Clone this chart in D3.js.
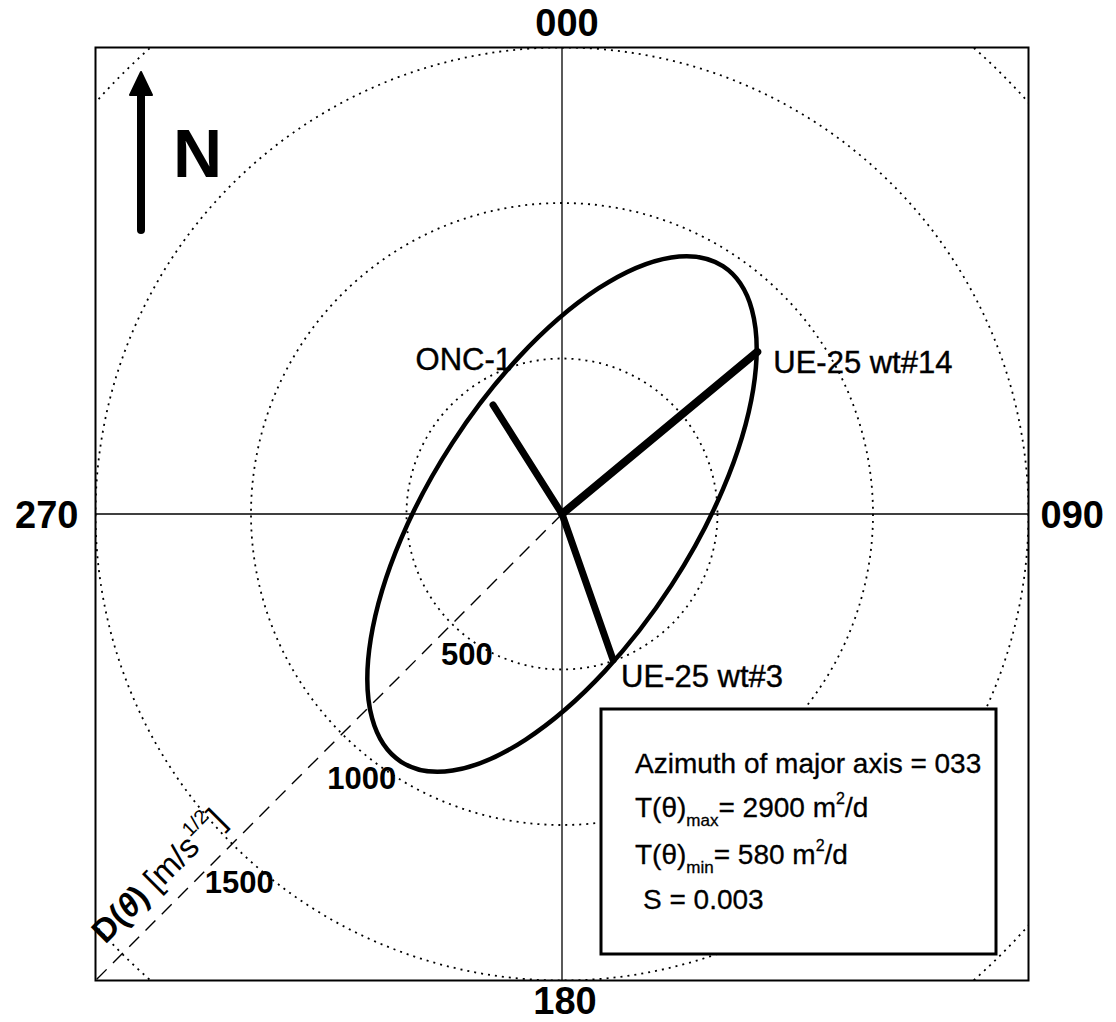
<!DOCTYPE html>
<html>
<head>
<meta charset="utf-8">
<script src="https://cdn.jsdelivr.net/npm/d3@7"></script>
<style>
  html, body { margin: 0; padding: 0; background: #fff; }
  svg { display: block; }
  text { font-family: "Liberation Sans", Arial, Helvetica, sans-serif; fill: #000; }
</style>
</head>
<body>
<svg id="chart" width="1116" height="1022"></svg>
<script>
// Compass labels at the four cardinal directions (azimuth in degrees)
const compassAz = [0, 90, 180, 270];
const compassLabels = ["000", "090", "180", "270"];

// Dotted reference rings for D(theta), in m/s^1/2
const ringValues = [500, 1000, 1500, 2000];
const ringLabels = ["500", "1000", "1500"];

// Directional diffusivity ellipse
const majorAzimuth = 33;      // degrees from north
const dMajor = 950;           // semi-major axis, m/s^1/2
const dMinor = 420;           // semi-minor axis, m/s^1/2

// Observation wells: azimuth from pumping well and D(theta)
const wellNames = ["UE-25 wt#14", "UE-25 wt#3", "ONC-1"];
const wellAzimuth = [50.3, 160.7, 327.7];
const wellD = [816, 497, 415];

// Summary statistics
const statLines = [
  { main: "Azimuth of major axis = 033" },
  { main: "T(θ)", sub: "max", rest: "= 2900 m", sup: "2", tail: "/d" },
  { main: "T(θ)", sub: "min", rest: "= 580 m", sup: "2", tail: "/d" },
  { main: "S = 0.003", indent: 8 }
];

const svg = d3.select("#chart");
const W = 1116, H = 1022;
const cx = 562, cy = 514;
const extent = 1500;

const r = d3.scaleLinear().domain([0, extent]).range([0, 466.5]);
const rad = d => d * Math.PI / 180;
const pt = (az, v) => [cx + r(v) * Math.sin(rad(az)), cy - r(v) * Math.cos(rad(az))];

svg.append("rect").attr("width", W).attr("height", H).attr("fill", "#fff");

const half = r(extent);
const box = { x0: cx - half, y0: cy - half, x1: cx + half, y1: cy + half };

svg.append("clipPath").attr("id", "plotClip")
  .append("rect").attr("x", box.x0).attr("y", box.y0)
  .attr("width", box.x1 - box.x0).attr("height", box.y1 - box.y0);

const plot = svg.append("g").attr("clip-path", "url(#plotClip)");

// dotted rings
plot.selectAll("circle.ring").data(ringValues).enter().append("circle")
  .attr("class", "ring")
  .attr("cx", cx).attr("cy", cy).attr("r", d => r(d))
  .attr("fill", "none").attr("stroke", "#000")
  .attr("stroke-width", 1.8).attr("stroke-dasharray", "2,5");

// crosshair through the pumping well
plot.append("line").attr("x1", cx).attr("x2", cx).attr("y1", box.y0).attr("y2", box.y1)
  .attr("stroke", "#000").attr("stroke-width", 1.3);
plot.append("line").attr("x1", box.x0).attr("x2", box.x1).attr("y1", cy).attr("y2", cy)
  .attr("stroke", "#000").attr("stroke-width", 1.3);

// radial D(theta) axis toward 225 degrees
const axEnd = pt(225, extent * 1.45);
plot.append("line").attr("x1", cx).attr("y1", cy).attr("x2", axEnd[0]).attr("y2", axEnd[1])
  .attr("stroke", "#000").attr("stroke-width", 1.4).attr("stroke-dasharray", "14,9");

// ellipse of directional diffusivity
plot.append("ellipse")
  .attr("cx", 0).attr("cy", 0)
  .attr("rx", r(dMinor)).attr("ry", r(dMajor))
  .attr("transform", `translate(${cx},${cy}) rotate(${majorAzimuth})`)
  .attr("fill", "none").attr("stroke", "#000").attr("stroke-width", 4.5);

// well rays
const wells = wellNames.map((n, i) => ({ name: n, az: wellAzimuth[i], d: wellD[i] }));
const rayWidth = [8, 7, 7];
plot.selectAll("line.well").data(wells).enter().append("line")
  .attr("class", "well")
  .attr("x1", cx).attr("y1", cy)
  .attr("x2", d => pt(d.az, d.d)[0]).attr("y2", d => pt(d.az, d.d)[1])
  .attr("stroke", "#000").attr("stroke-width", (d, i) => rayWidth[i])
  .attr("stroke-linecap", "round");

// well labels
const labelOffset = [
  { dx: 16, dy: 21, anchor: "start" },
  { dx: 8, dy: 27, anchor: "start" },
  { dx: 19, dy: -35, anchor: "end" }
];
svg.selectAll("text.well").data(wells).enter().append("text")
  .attr("class", "well")
  .attr("x", (d, i) => pt(d.az, d.d)[0] + labelOffset[i].dx)
  .attr("y", (d, i) => pt(d.az, d.d)[1] + labelOffset[i].dy)
  .attr("text-anchor", (d, i) => labelOffset[i].anchor)
  .attr("font-size", 31).attr("stroke", "#000").attr("stroke-width", 0.4)
  .text(d => d.name);

// frame
svg.append("rect").attr("x", box.x0).attr("y", box.y0)
  .attr("width", box.x1 - box.x0).attr("height", box.y1 - box.y0)
  .attr("fill", "none").attr("stroke", "#000").attr("stroke-width", 2);

// compass labels
const compassPos = [
  { x: cx + 5, y: box.y0 - 12, anchor: "middle" },
  { x: box.x1 + 12, y: cy + 14, anchor: "start" },
  { x: cx + 3, y: box.y1 + 33, anchor: "middle" },
  { x: box.x0 - 17, y: cy + 14, anchor: "end" }
];
svg.selectAll("text.compass").data(compassLabels).enter().append("text")
  .attr("class", "compass")
  .attr("x", (d, i) => compassPos[i].x).attr("y", (d, i) => compassPos[i].y)
  .attr("text-anchor", (d, i) => compassPos[i].anchor)
  .attr("font-size", 38).attr("font-weight", "bold")
  .text(d => d);

// ring value labels, right end sitting on each ring
svg.selectAll("text.ringlab").data(ringLabels).enter().append("text")
  .attr("class", "ringlab")
  .attr("x", d => pt(200 + 0.012 * (+d), +d)[0] - 1)
  .attr("y", d => pt(200 + 0.012 * (+d), +d)[1] + 11)
  .attr("text-anchor", "end")
  .attr("font-size", 31).attr("font-weight", "bold")
  .text(d => d);

// axis title along the radial axis
const tPos = pt(225, 1740);
const tg = svg.append("g")
  .attr("transform", `translate(${tPos[0] - 13},${tPos[1] - 13}) rotate(-45)`);
const tt = tg.append("text").attr("text-anchor", "middle").attr("font-size", 33);
tt.append("tspan").attr("font-weight", "bold").text("D(");
tt.append("tspan").attr("font-weight", "bold").attr("font-style", "italic").text("θ");
tt.append("tspan").attr("font-weight", "bold").text(")");
tt.append("tspan").text(" [m/s");
tt.append("tspan").attr("font-size", 20).attr("dy", -16).text("1/2");
tt.append("tspan").attr("dy", 16).text("]");

// north arrow
const nx = 141;
svg.append("line").attr("x1", nx).attr("x2", nx).attr("y1", 230).attr("y2", 90)
  .attr("stroke", "#000").attr("stroke-width", 8).attr("stroke-linecap", "round");
svg.append("path")
  .attr("d", `M${nx},72 L${nx + 11},95 L${nx - 11},95 Z`)
  .attr("fill", "#000").attr("stroke", "#000").attr("stroke-width", 2).attr("stroke-linejoin", "round");
svg.append("text").attr("x", 173).attr("y", 177)
  .attr("font-size", 68).attr("font-weight", "bold").text("N");

// statistics box
svg.append("rect").attr("x", 601).attr("y", 709).attr("width", 395).attr("height", 245)
  .attr("fill", "#fff").attr("stroke", "#000").attr("stroke-width", 3);
const baselines = [773, 817, 864, 909];
statLines.forEach((s, i) => {
  const t = svg.append("text").attr("x", 635 + (s.indent || 0)).attr("y", baselines[i])
    .attr("font-size", 28).attr("stroke", "#000").attr("stroke-width", 0.3);
  t.append("tspan").text(s.main);
  if (s.sub) {
    t.append("tspan").attr("font-size", 17).attr("dy", 9).text(s.sub);
    t.append("tspan").attr("dy", -9).text(s.rest);
    t.append("tspan").attr("font-size", 16).attr("dy", -13).text(s.sup);
    t.append("tspan").attr("dy", 13).text(s.tail);
  }
});
</script>
</body>
</html>
